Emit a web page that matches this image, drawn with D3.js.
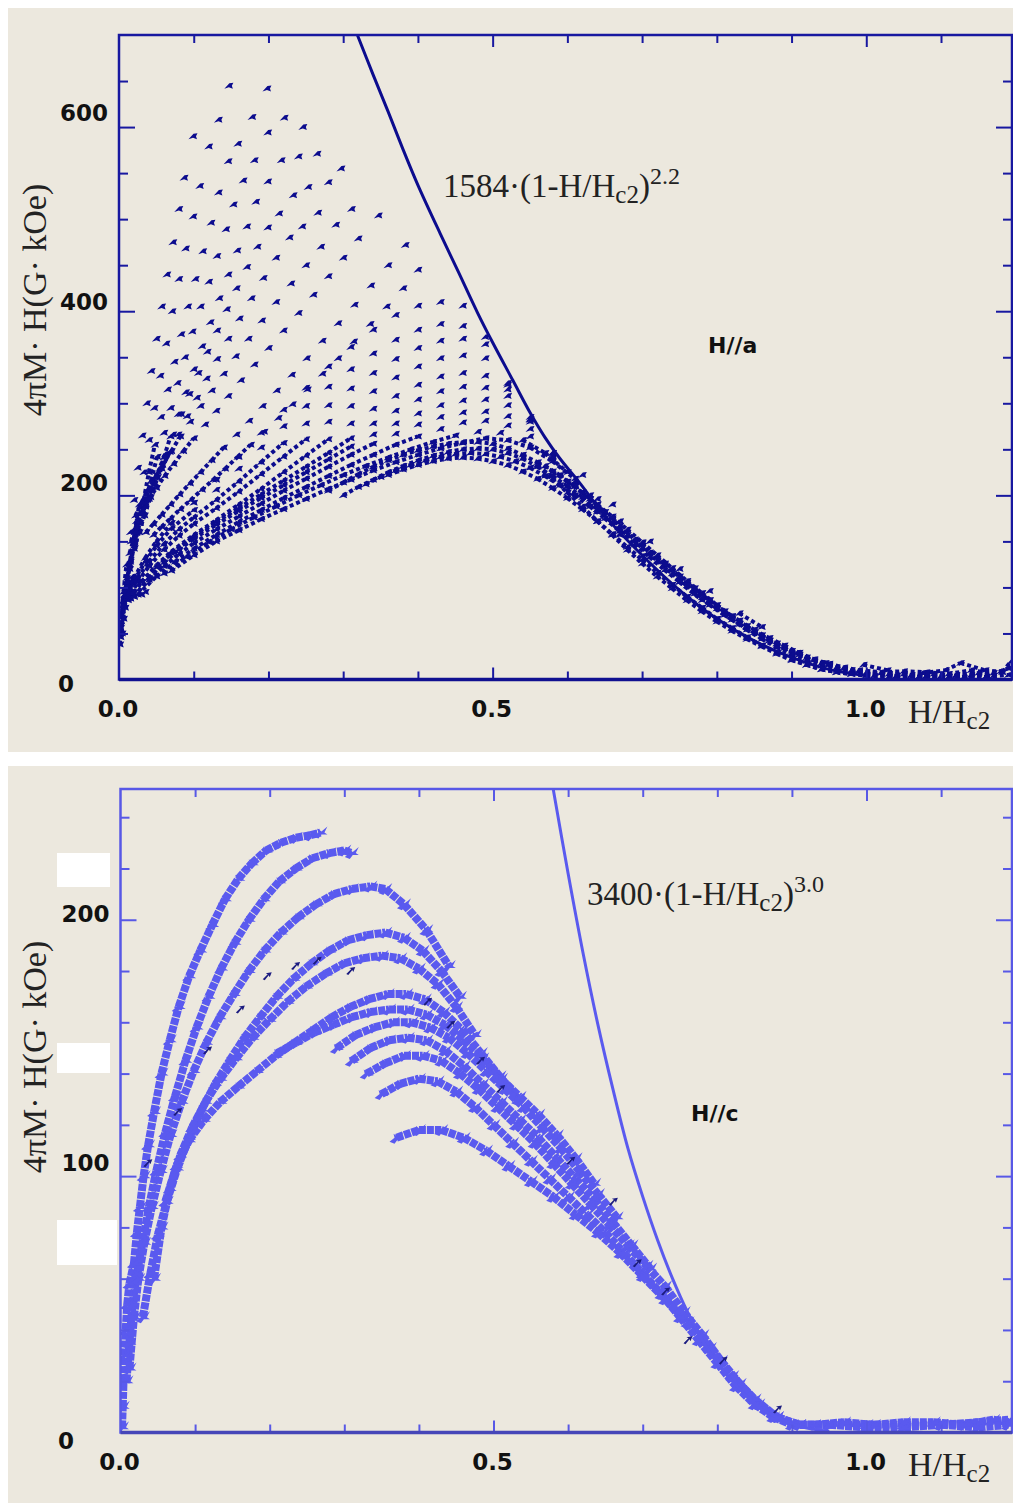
<!DOCTYPE html>
<html>
<head>
<meta charset="utf-8">
<script src="https://cdn.jsdelivr.net/npm/d3@7"></script>
<style>
  body { margin: 0; background: #ffffff; }
</style>
</head>
<body>
<div id="container"></div>
<script>
// window size
const cwW = 1013;
const cwH = 1503;
const bgColor = "#ece8de";
const sansFont = "'DejaVu Sans', sans-serif";
const serifFont = "'Liberation Serif', 'DejaVu Serif', serif";

/**************************
* Data : H//a panel, [H/Hc2, 4piM*H]
**************************/
const aBlob = [[.001,38],[.002,46],[.002,56],[.003,63],[.004,50],[.004,75],[.005,85],[.006,66],[.007,92],[.008,78],[.009,100],[.011,88],[.012,97],[.014,105],[.016,93],[.018,112]];
const a01 = [[.003,70],[.006,95],[.01,125],[.015,160],[.02,195],[.025,230],[.031,265],[.037,300],[.043,335],[.05,370],[.057,405],[.064,440],[.072,475],[.080,511],[.087,545],[.099,590]];
const a02 = [[.006,85],[.01,105],[.015,130],[.021,160],[.027,190],[.033,225],[.04,260],[.047,295],[.055,330],[.063,365],[.071,400],[.08,435],[.089,468],[.099,503],[.108,536],[.120,579],[.133,608],[.147,645]];
const a03 = [[.009,100],[.014,120],[.02,145],[.026,170],[.033,195],[.04,225],[.048,255],[.056,285],[.065,315],[.074,345],[.083,375],[.092,405],[.102,435],[.112,465],[.123,496],[.133,529],[.146,563],[.159,582],[.178,611],[.198,642]];
const a04 = [[.01,110],[.015,128],[.021,148],[.028,170],[.035,192],[.043,216],[.051,242],[.06,268],[.069,295],[.078,322],[.088,350],[.098,378],[.109,405],[.12,432],[.131,460],[.143,489],[.153,516],[.166,542],[.181,564],[.199,594],[.221,610]];
const a05 = [[.014,125],[.02,142],[.027,160],[.034,178],[.042,198],[.051,219],[.06,241],[.069,264],[.079,288],[.089,312],[.1,337],[.111,362],[.122,388],[.134,414],[.146,440],[.158,466],[.171,492],[.183,519],[.199,541],[.217,564],[.246,600]];
const a06 = [[.014,137],[.02,153],[.027,170],[.035,188],[.043,206],[.052,225],[.062,245],[.072,266],[.083,288],[.094,310],[.106,333],[.118,356],[.131,379],[.144,402],[.157,425],[.171,448],[.185,470],[.199,491],[.214,506],[.233,526],[.253,535],[.240,568],[.265,571]];
const a07 = [[.016,150],[.022,165],[.03,180],[.038,196],[.047,212],[.057,229],[.068,247],[.079,266],[.091,286],[.104,306],[.117,327],[.131,348],[.146,370],[.161,392],[.177,414],[.193,436],[.21,458],[.228,480],[.245,492],[.266,507],[.280,540],[.297,555]];
const a08 = [[.022,178],[.03,192],[.038,205],[.048,219],[.058,233],[.07,248],[.082,264],[.095,280],[.109,297],[.124,314],[.14,332],[.156,351],[.173,370],[.191,390],[.21,410],[.23,430],[.25,450],[.270,470],[.290,494],[.311,511]];
const a09 = [[.023,172],[.031,184],[.04,196],[.05,208],[.061,221],[.073,234],[.086,248],[.1,262],[.115,277],[.13,292],[.146,308],[.163,325],[.181,342],[.2,360],[.22,379],[.24,398],[.26,418],[.28,438],[.30,458],[.320,479],[.347,504]];
const a10 = [[.036,160],[.046,169],[.057,179],[.069,190],[.081,201],[.095,213],[.109,225],[.124,238],[.14,252],[.157,266],[.174,281],[.192,297],[.211,314],[.231,331],[.251,349],[.272,368],[.293,387],[.315,407],[.337,428],[.36,450],[.383,472]];
const a11 = [[.046,157],[.057,166],[.069,175],[.082,185],[.096,195],[.111,206],[.126,217],[.142,229],[.159,242],[.176,255],[.194,269],[.213,284],[.232,299],[.252,315],[.272,332],[.293,349],[.314,367],[.336,386],[.358,405],[.38,425],[.40,445]];
const b01 = [[.01,92],[.02,110],[.035,132],[.05,150],[.07,170],[.1,192],[.13,217],[.16,242],[.19,268],[.22,293],[.25,317],[.28,340],[.31,361],[.34,380],[.37,396],[.40,406],[.43,410],[.46,406]];
const b02 = [[.01,90],[.02,107],[.035,128],[.05,145],[.07,164],[.1,184],[.13,206],[.16,229],[.19,252],[.22,275],[.25,297],[.28,318],[.31,337],[.34,354],[.37,369],[.40,380],[.43,386],[.46,384],[.49,372]];
const b03 = [[.012,88],[.025,110],[.04,128],[.06,147],[.08,163],[.1,176],[.13,195],[.16,215],[.19,236],[.22,257],[.25,278],[.28,298],[.31,316],[.34,333],[.37,348],[.40,360],[.43,368],[.46,370],[.49,364],[.52,322]];
const b04 = [[.012,86],[.025,106],[.04,123],[.06,141],[.08,156],[.1,169],[.13,186],[.16,204],[.19,223],[.22,242],[.25,261],[.28,280],[.31,297],[.34,313],[.37,328],[.40,340],[.43,349],[.46,352],[.49,349],[.52,320],[.55,285]];
const b05 = [[.015,88],[.03,106],[.05,124],[.07,139],[.1,157],[.13,173],[.16,190],[.19,207],[.22,225],[.25,243],[.28,261],[.31,278],[.34,294],[.37,308],[.40,320],[.43,329],[.46,333],[.49,330],[.52,315],[.55,283],[.58,246]];
const b06 = [[.015,88],[.03,106],[.05,122],[.07,137],[.1,155],[.13,171],[.16,186],[.19,201],[.22,216],[.25,231],[.28,246],[.31,262],[.34,278],[.37,292],[.40,304],[.43,313],[.46,318],[.49,317],[.52,308],[.55,282],[.58,246],[.61,215]];
const b07 = [[.02,90],[.04,110],[.06,127],[.08,141],[.1,153],[.13,168],[.16,183],[.19,197],[.22,211],[.25,225],[.28,239],[.31,253],[.34,266],[.37,278],[.40,289],[.43,298],[.46,303],[.49,304],[.52,298],[.55,280],[.58,244],[.61,212],[.64,185]];
const b08 = [[.02,90],[.04,108],[.06,123],[.08,136],[.1,148],[.13,163],[.16,177],[.19,191],[.22,205],[.25,218],[.28,231],[.31,244],[.34,256],[.37,267],[.40,277],[.43,285],[.46,290],[.49,291],[.52,286],[.55,272],[.58,242],[.61,210],[.64,182],[.67,157]];
const b09 = [[.025,92],[.05,112],[.075,128],[.1,142],[.13,157],[.16,171],[.19,184],[.22,197],[.25,209],[.28,221],[.31,233],[.34,244],[.37,255],[.40,264],[.43,272],[.46,279],[.49,281],[.52,276],[.55,264],[.58,240],[.61,210],[.64,183],[.67,158],[.70,134]];
const b10 = [[.03,92],[.06,115],[.09,133],[.12,149],[.15,163],[.18,176],[.21,188],[.24,200],[.27,211],[.30,222],[.33,232],[.36,241],[.39,250],[.42,258],[.45,265],[.48,269],[.51,268],[.54,260],[.57,246],[.60,225],[.63,200],[.66,175],[.69,150],[.72,128],[.75,106],[.78,86]];
const b11 = [[.035,95],[.07,118],[.1,135],[.13,150],[.16,162],[.19,174],[.22,185],[.25,196],[.28,207],[.31,217],[.34,227],[.37,236],[.40,244],[.43,251],[.46,257],[.49,262],[.52,260],[.55,252],[.58,237],[.61,218],[.64,196],[.67,172],[.70,148],[.73,126],[.76,105],[.79,86],[.82,68]];
const c01 = [[.28,205],[.30,214],[.32,223],[.34,231],[.36,238],[.38,244],[.40,249],[.42,253],[.44,256],[.46,258],[.48,258],[.50,256],[.52,251],[.54,244],[.56,236],[.58,226],[.60,215],[.62,203],[.64,190],[.66,177],[.68,163],[.70,149],[.72,135],[.74,121],[.76,107],[.78,94],[.80,81],[.82,69],[.84,58],[.86,48],[.88,39],[.90,31],[.92,24],[.94,18],[.96,13],[.98,10],[1.0,8],[1.03,6],[1.06,5],[1.09,6],[1.12,5],[1.15,7],[1.18,9]];
const c02 = [[.30,200],[.32,209],[.34,217],[.36,225],[.38,232],[.40,238],[.42,243],[.44,247],[.46,250],[.48,251],[.50,250],[.52,246],[.54,240],[.56,231],[.58,221],[.60,210],[.62,198],[.64,185],[.66,171],[.68,157],[.70,143],[.72,129],[.74,115],[.76,102],[.78,89],[.80,77],[.82,65],[.84,54],[.86,44],[.88,35],[.90,27],[.92,20],[.94,15],[.96,10],[.98,7],[1.0,5],[1.04,4],[1.08,3],[1.12,4],[1.16,3],[1.19,5]];
const c03 = [[.33,212],[.35,220],[.37,227],[.39,233],[.41,238],[.43,242],[.45,245],[.47,246],[.49,245],[.51,242],[.53,237],[.55,230],[.57,221],[.59,211],[.61,200],[.63,188],[.65,175],[.67,161],[.69,147],[.71,133],[.73,119],[.75,106],[.77,93],[.79,81],[.81,70],[.83,60],[.85,51],[.87,42],[.89,34],[.91,27],[.93,21],[.95,16],[.97,12],[.99,9],[1.02,7],[1.05,6],[1.08,4],[1.11,3],[1.14,5],[1.17,4]];
const c04 = [[.36,222],[.38,228],[.40,233],[.42,237],[.44,240],[.46,241],[.48,240],[.50,237],[.52,233],[.54,226],[.56,218],[.58,208],[.60,197],[.62,185],[.64,172],[.66,158],[.68,144],[.70,130],[.72,116],[.74,103],[.76,90],[.78,78],[.80,66],[.82,56],[.84,46],[.86,37],[.88,29],[.90,22],[.92,16],[.94,11],[.96,8],[.98,6],[1.01,4],[1.04,3],[1.07,3],[1.1,4],[1.13,2],[1.16,3],[1.19,12]];
const c05 = [[.56,232],[.58,218],[.60,203],[.62,188],[.64,172],[.66,157],[.68,141],[.70,126],[.72,112],[.74,99],[.76,86],[.78,74],[.80,63],[.82,53],[.84,44],[.86,36],[.88,28],[.90,21],[.92,16],[.94,11],[.96,8],[.98,6],[1.0,4],[1.03,3],[1.06,4],[1.1,2],[1.14,3]];
const c06 = [[.57,232],[.59,222],[.61,210],[.63,196],[.65,182],[.67,167],[.69,152],[.71,138],[.73,125],[.75,112],[.77,99],[.79,86],[.81,74],[.83,64],[.85,54],[.87,45],[.89,37],[.91,29],[.93,22],[.95,17],[.97,13],[.99,10],[1.02,8],[1.05,9],[1.08,8],[1.11,6],[1.14,10],[1.17,7]];
// isolated points scattered along the tail
const aScatter = [[.62,222],[.66,190],[.71,150],[.75,120],[.79,96],[.83,72],[.86,57],[.907,29],[.945,18],[.996,16],[1.028,10],[1.075,7],[1.106,10],[1.126,18],[1.159,10],[1.182,8],[1.193,19]];
const aCurves = [aBlob,a01,a02,a03,a04,a05,a06,a07,a08,a09,a10,a11,b01,b02,b03,b04,b05,b06,b07,b08,b09,b10,b11,c01,c02,c03,c04,c05,c06,aScatter];
// fitted line 1584*(1-H/Hc2)^2.2
const aFit = [[.319,700],[.34,657],[.36,617],[.379,578],[.40,537],[.43,484],[.454,443],[.48,398],[.50,366],[.527,325],[.55,290],[.57,263],[.59,240],[.617,213],[.65,178],[.70,135],[.75,97],[.80,66],[.85,42],[.90,24],[.95,11],[1.0,4]];

/**************************
* Data : H//c panel
**************************/
const e01 = [[.002,2],[.003,10],[.004,20],[.005,30],[.007,40],[.009,50],[.012,58],[.018,66],[.022,78],[.026,88],[.031,100],[.037,112],[.045,125],[.055,140],[.066,153],[.078,166],[.092,178],[.107,188],[.123,198],[.14,208],[.158,216],[.176,222],[.195,227],[.215,230],[.235,232],[.255,233],[.268,234]];
const e02 = [[.008,20],[.012,35],[.016,50],[.022,62],[.03,75],[.038,88],[.048,102],[.06,117],[.073,131],[.087,145],[.102,158],[.118,170],[.135,181],[.153,191],[.172,200],[.192,208],[.213,215],[.235,220],[.257,224],[.28,226],[.30,227],[.31,226]];
const e03 = [[.012,25],[.018,45],[.024,60],[.032,74],[.042,88],[.054,102],[.067,116],[.082,129],[.098,141],[.115,152],[.133,162],[.152,171],[.172,180],[.193,188],[.215,195],[.238,201],[.262,206],[.286,210],[.31,212],[.335,213],[.355,212],[.38,206],[.41,196],[.44,182]];
const e04 = [[.03,45],[.04,62],[.05,77],[.062,90],[.076,103],[.092,115],[.109,126],[.127,136],[.146,145],[.166,154],[.187,162],[.209,170],[.232,177],[.256,183],[.28,188],[.305,192],[.33,194],[.355,195],[.38,193],[.405,188],[.43,180],[.455,170]];
const e05 = [[.045,60],[.055,80],[.066,95],[.08,108],[.096,119],[.114,129],[.134,138],[.155,146],[.177,154],[.2,161],[.224,168],[.249,174],[.275,179],[.30,183],[.325,185],[.35,186],[.375,185],[.40,181],[.425,175],[.45,166],[.475,155]];
const e06 = [[.06,90],[.075,104],[.092,114],[.112,122],[.134,129],[.158,135],[.183,141],[.208,147],[.233,152],[.258,157],[.283,162],[.308,166],[.333,169],[.358,171],[.383,171],[.408,169],[.433,164],[.458,157],[.483,148],[.508,139],[.533,130]];
const e07 = [[.21,148],[.235,152],[.26,156],[.285,159],[.31,162],[.335,164],[.36,165],[.385,165],[.41,163],[.435,159],[.46,153],[.485,146],[.51,138],[.535,131],[.56,124],[.585,116],[.61,107],[.635,97]];
const e08 = [[.29,150],[.315,155],[.34,158],[.365,160],[.39,160],[.415,158],[.44,154],[.465,148],[.49,141],[.515,134],[.54,127],[.565,119],[.59,111],[.615,102],[.64,93],[.665,84]];
const e09 = [[.31,145],[.335,150],[.36,153],[.385,154],[.41,153],[.435,149],[.46,143],[.485,136],[.51,129],[.535,122],[.56,115],[.585,107],[.61,99],[.635,91],[.66,82],[.685,73],[.71,64]];
const e10 = [[.33,140],[.355,144],[.38,147],[.405,147],[.43,145],[.455,140],[.48,134],[.505,127],[.53,120],[.555,113],[.58,105],[.605,97],[.63,89],[.655,81],[.68,73],[.705,65],[.73,57],[.755,47],[.78,38],[.805,28],[.83,19],[.855,11],[.88,6],[.91,3],[.95,3],[1.0,3],[1.05,3],[1.1,3],[1.15,4],[1.19,5]];
const e11 = [[.35,132],[.375,136],[.40,138],[.425,137],[.45,133],[.475,127],[.50,120],[.525,113],[.55,106],[.575,99],[.60,92],[.625,85],[.65,78],[.675,70],[.70,62],[.725,54],[.75,45],[.775,36],[.80,27],[.825,18],[.85,11],[.875,6],[.90,3],[.93,3],[.97,4],[1.01,3],[1.05,4],[1.09,4],[1.13,3],[1.17,5],[1.19,4]];
const e12 = [[.37,115],[.40,118],[.43,118],[.46,115],[.49,110],[.52,104],[.55,98],[.58,92],[.61,85],[.64,78],[.67,70],[.70,61],[.73,52],[.76,43],[.79,33],[.82,22],[.85,13],[.88,6],[.91,3],[.95,3],[1.0,2],[1.05,2],[1.1,3],[1.15,2],[1.19,3]];
const cCurves = [e01,e02,e03,e04,e05,e06,e07,e08,e09,e10,e11,e12];
// a few darker points scattered over the H//c data
const cDark = [[.036,105],[.076,125],[.116,149],[.16,165],[.196,178],[.234,182],[.263,184],[.308,180],[.411,168],[.442,159],[.482,145],[.509,134],[.603,106],[.66,90],[.692,66],[.73,55],[.76,36],[.807,28],[.88,9]];
// fitted line 3400*(1-H/Hc2)^3.0
const cFit = [[.58,251],[.60,218],[.62,187],[.64,159],[.66,134],[.68,111],[.70,92],[.72,75],[.74,60],[.76,47],[.78,36],[.80,27],[.82,20],[.84,14],[.86,9],[.88,6],[.90,3.4],[.92,1.7],[.95,0.5]];

// tick values / labels
const xMajor = [0, 0.5, 1.0];
const xLabels = ["0.0", "0.5", "1.0"];
const aYMajor = [0, 200, 400, 600];
const aYLabels = ["0", "200", "400", "600"];
const cYMajor = [0, 100, 200];
const cYLabels = ["0", "100", "200"];

//create SVG container
let svgArea = d3.select("#container").append("svg")
                .attr("width", cwW)
                .attr("height", cwH);

const topMarker = "M-4.5,3 L0.5,-2.5 L4.5,-3 L3,0 L4,3 L0,1.5 Z";
const botMarker = "M-7,4 L-2,0 L-3,-4 L1,-1 L7,-6 L4,0 L7,2 L1,2 L-2,6 Z";

/**************************
* Draw one panel
**************************/
function drawPanel(p) {
  const g = svgArea.append("g");

  g.append("rect")
    .attr("x", 8).attr("y", p.bgTop)
    .attr("width", cwW - 8).attr("height", p.bgH)
    .attr("fill", bgColor);

  const x = d3.scaleLinear().domain([0, 1.195]).range([p.left, p.right]);
  const y = d3.scaleLinear().domain([0, p.yMax]).range([p.bottom, p.top]);

  g.append("clipPath").attr("id", p.id + "clip")
    .append("rect")
    .attr("x", p.left).attr("y", p.top)
    .attr("width", p.right - p.left).attr("height", p.bottom - p.top);

  const data = g.append("g").attr("clip-path", "url(#" + p.id + "clip)");

  // connecting segments where the data are dense
  let segs = [];
  p.curves.forEach(function(c){
    for (let i = 1; i < c.length; i++) {
      let dx = x(c[i][0]) - x(c[i-1][0]);
      let dy = y(c[i][1]) - y(c[i-1][1]);
      if (p.connect(c[i-1], c[i], Math.sqrt(dx*dx + dy*dy))) segs.push([c[i-1], c[i]]);
    }
  });
  const line = d3.line().x(d => x(d[0])).y(d => y(d[1]));
  data.append("g")
    .selectAll("path")
    .data(segs)
    .enter()
    .append("path")
    .attr("d", line)
    .attr("fill", "none")
    .attr("stroke", p.dataColor)
    .attr("stroke-width", p.segW)
    .attr("stroke-dasharray", p.segDash)
    .attr("stroke-linecap", "butt");

  // markers
  data.append("g")
    .selectAll("path")
    .data(p.curves.flat())
    .enter()
    .append("path")
    .attr("d", p.marker)
    .attr("transform", d => "translate(" + x(d[0]) + "," + y(d[1]) + ")")
    .attr("fill", p.dataColor);

  if (p.dark) {
    data.append("g")
      .selectAll("path")
      .data(p.dark)
      .enter()
      .append("path")
      .attr("d", "M-4,3 L1,-2 L-1,-3 L5,-4 L3,1 L2,-1 L-2,4 Z")
      .attr("transform", d => "translate(" + x(d[0]) + "," + y(d[1]) + ")")
      .attr("fill", "#1c1c80");
  }

  // fit line
  data.append("path")
    .datum(p.fit)
    .attr("d", d3.line().x(d => x(d[0])).y(d => y(d[1])).curve(d3.curveCatmullRom))
    .attr("fill", "none")
    .attr("stroke", p.dataColor)
    .attr("stroke-width", 3);

  // ticks (pointing inwards on all four sides)
  function tickSet(axisFn, sc, vals, len, tx, ty) {
    g.append("g")
      .attr("transform", "translate(" + tx + "," + ty + ")")
      .call(axisFn(sc).tickValues(vals).tickSize(-len).tickFormat(""))
      .call(s => s.select(".domain").remove())
      .call(s => s.selectAll("line").attr("stroke", p.frameColor).attr("stroke-width", 2));
  }
  const xMinor = x.ticks(12).filter(v => v > 0 && xMajor.indexOf(v) < 0);
  const yMinor = d3.range(p.yStep, p.yMax, p.yStep).filter(v => p.yMajor.indexOf(v) < 0);
  const yMaj = p.yMajor.filter(v => v > 0);
  tickSet(d3.axisBottom, x, xMinor, 8, 0, p.bottom);
  tickSet(d3.axisBottom, x, [0.5, 1.0], 12, 0, p.bottom);
  tickSet(d3.axisTop, x, xMinor, 8, 0, p.top);
  tickSet(d3.axisTop, x, [0.5, 1.0], 12, 0, p.top);
  tickSet(d3.axisLeft, y, yMinor, 9, p.left, 0);
  tickSet(d3.axisLeft, y, yMaj, 16, p.left, 0);
  tickSet(d3.axisRight, y, yMinor, 9, p.right, 0);
  tickSet(d3.axisRight, y, yMaj, 16, p.right, 0);

  // frame
  g.append("rect")
    .attr("x", p.left).attr("y", p.top)
    .attr("width", p.right - p.left).attr("height", p.bottom - p.top)
    .attr("fill", "none")
    .attr("stroke", p.frameColor)
    .attr("stroke-width", 2.5);
  g.append("line")
    .attr("x1", p.left).attr("x2", p.right)
    .attr("y1", p.bottom).attr("y2", p.bottom)
    .attr("stroke", p.axisColor)
    .attr("stroke-width", 3.5);

  // tick labels
  g.append("g").selectAll("text")
    .data(p.yMajor)
    .enter()
    .append("text")
    .attr("x", d => d === 0 ? 66 : p.left - 11)
    .attr("y", (d, i) => d === 0 ? p.bottom + p.zeroDy : y(d) + p.labDy[i])
    .attr("text-anchor", d => d === 0 ? "middle" : "end")
    .style("font-family", sansFont)
    .attr("font-size", 23).attr("font-weight", "bold").attr("fill", "#111")
    .text((d, i) => p.yLabels[i]);

  g.append("g").selectAll("text")
    .data(xMajor)
    .enter()
    .append("text")
    .attr("x", d => x(d) - 1)
    .attr("y", p.bottom + 37)
    .attr("text-anchor", "middle")
    .style("font-family", sansFont)
    .attr("font-size", 23).attr("font-weight", "bold").attr("fill", "#111")
    .text((d, i) => xLabels[i]);

  // x axis title H/Hc2
  let xt = g.append("text")
    .attr("x", 908).attr("y", p.bottom + 43)
    .style("font-family", serifFont)
    .attr("font-size", 34).attr("fill", "#222");
  xt.append("tspan").text("H/H");
  xt.append("tspan").attr("dy", 6).attr("font-size", 25).text("c2");

  // y axis title
  g.append("text")
    .attr("transform", "translate(46," + p.yTitleY + ") rotate(-90)")
    .attr("text-anchor", "middle")
    .style("font-family", serifFont)
    .attr("font-size", 34).attr("fill", "#222")
    .text("4\u03C0M\u00B7 H(G\u00B7 kOe)");

  // fit annotation
  let ft = g.append("text")
    .attr("x", p.fitLab[0]).attr("y", p.fitLab[1])
    .style("font-family", serifFont)
    .attr("font-size", 33).attr("fill", "#222");
  ft.append("tspan").text(p.fitText[0] + "\u00B7(1-H/H");
  ft.append("tspan").attr("dy", 6).attr("font-size", 25).text("c2");
  ft.append("tspan").attr("dy", -6).text(")");
  ft.append("tspan").attr("dy", -13).attr("font-size", 24).text(p.fitText[1]);

  // direction label
  g.append("text")
    .attr("x", p.dirLab[0]).attr("y", p.dirLab[1])
    .style("font-family", sansFont)
    .attr("font-size", 22).attr("font-weight", "bold").attr("fill", "#111")
    .text(p.dirText);

  return g;
}

drawPanel({
  id: "pa", bgTop: 8, bgH: 744,
  left: 119, right: 1012, top: 35, bottom: 679.5,
  yMax: 700, yStep: 50, yMajor: aYMajor, yLabels: aYLabels,
  labDy: [0, -4, -1, -6], zeroDy: 12,
  curves: aCurves, fit: aFit,
  connect: (p0, p1, dist) => (p0[1] <= 265 && p1[1] <= 265 && dist < 30) || dist < 10,
  segW: 4, segDash: "4 3", marker: topMarker,
  dataColor: "#0c0c8e", frameColor: "#1818a0", axisColor: "#101090",
  yTitleY: 300,
  fitLab: [443, 197], fitText: ["1584", "2.2"],
  dirLab: [708, 353], dirText: "H//a"
});

let pc = drawPanel({
  id: "pc", bgTop: 766, bgH: 737,
  left: 120.5, right: 1012, top: 789, bottom: 1432.5,
  yMax: 251, yStep: 20, yMajor: cYMajor, yLabels: cYLabels,
  labDy: [0, -5, 2], zeroDy: 16,
  curves: cCurves, fit: cFit, dark: cDark,
  connect: (p0, p1, dist) => true,
  segW: 8, segDash: "7 1", marker: botMarker,
  dataColor: "#5a5aef", frameColor: "#5858e6", axisColor: "#4646b8",
  yTitleY: 1057,
  fitLab: [587, 905], fitText: ["3400", "3.0"],
  dirLab: [691, 1121], dirText: "H//c"
});

// blank patches over the H//c axis labels
const patchTops = [853, 1043, 1220];
const patchHeights = [34, 30, 45];
const patchWidths = [53, 53, 60];
pc.append("g").selectAll("rect")
  .data(patchTops)
  .enter()
  .append("rect")
  .attr("x", 57).attr("y", d => d)
  .attr("width", (d, i) => patchWidths[i])
  .attr("height", (d, i) => patchHeights[i])
  .attr("fill", "#ffffff");
</script>
</body>
</html>
